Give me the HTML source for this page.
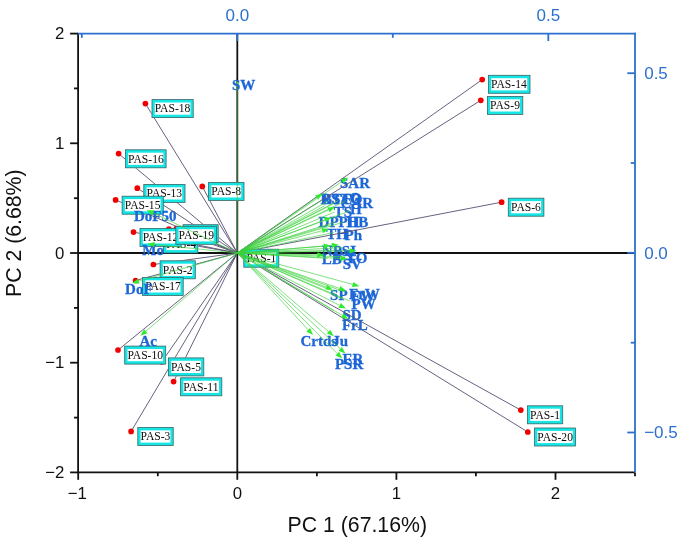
<!DOCTYPE html>
<html><head><meta charset="utf-8"><style>
html,body{margin:0;padding:0;background:#fff;}
body{width:685px;height:540px;overflow:hidden;font-family:"Liberation Sans",sans-serif;}
svg{display:block;will-change:transform;filter:blur(0.3px);}
</style></head><body>
<svg width="685" height="540" viewBox="0 0 685 540">
<rect width="685" height="540" fill="#fff"/>
<line x1="78" y1="253" x2="635" y2="253" stroke="#111" stroke-width="1.8"/>
<line x1="237.3" y1="33" x2="237.3" y2="472.4" stroke="#111" stroke-width="1.8"/>
<circle cx="145.4" cy="103.6" r="2.85" fill="#f00000"/>
<circle cx="118.6" cy="153.6" r="2.85" fill="#f00000"/>
<circle cx="137.3" cy="188.2" r="2.85" fill="#f00000"/>
<circle cx="115.6" cy="199.9" r="2.85" fill="#f00000"/>
<circle cx="202.3" cy="186.4" r="2.85" fill="#f00000"/>
<circle cx="157.0" cy="239.0" r="2.85" fill="#f00000"/>
<circle cx="133.5" cy="232.1" r="2.85" fill="#f00000"/>
<circle cx="176.4" cy="228.6" r="2.85" fill="#f00000"/>
<circle cx="168.9" cy="229.2" r="2.85" fill="#f00000"/>
<circle cx="153.4" cy="264.5" r="2.85" fill="#f00000"/>
<circle cx="135.6" cy="280.5" r="2.85" fill="#f00000"/>
<circle cx="118.0" cy="350.0" r="2.85" fill="#f00000"/>
<circle cx="161.8" cy="361.8" r="2.85" fill="#f00000"/>
<circle cx="173.6" cy="381.6" r="2.85" fill="#f00000"/>
<circle cx="131.1" cy="431.4" r="2.85" fill="#f00000"/>
<circle cx="482.2" cy="79.6" r="2.85" fill="#f00000"/>
<circle cx="480.8" cy="100.3" r="2.85" fill="#f00000"/>
<circle cx="501.6" cy="202.2" r="2.85" fill="#f00000"/>
<circle cx="520.8" cy="410.1" r="2.85" fill="#f00000"/>
<circle cx="527.8" cy="432.0" r="2.85" fill="#f00000"/>
<rect x="152.0" y="99.60000000000001" width="41.2" height="18.0" fill="#14e6e6" stroke="#3a6464" stroke-width="0.8"/>
<rect x="154.79999999999998" y="102.5" width="35.6" height="12.200000000000001" fill="#fff"/>
<text x="154.7" y="112.4" font-family="Liberation Serif" font-size="11.6" fill="#0a0a0a">PAS-18</text>
<rect x="125.4" y="149.8" width="40.7" height="18.0" fill="#14e6e6" stroke="#3a6464" stroke-width="0.8"/>
<rect x="128.2" y="152.70000000000002" width="35.1" height="12.200000000000001" fill="#fff"/>
<text x="128.1" y="162.6" font-family="Liberation Serif" font-size="11.6" fill="#0a0a0a">PAS-16</text>
<rect x="143.8" y="184.4" width="41.2" height="18.0" fill="#14e6e6" stroke="#3a6464" stroke-width="0.8"/>
<rect x="146.6" y="187.3" width="35.6" height="12.200000000000001" fill="#fff"/>
<text x="146.5" y="197.2" font-family="Liberation Serif" font-size="11.6" fill="#0a0a0a">PAS-13</text>
<rect x="122.10000000000001" y="196.20000000000002" width="41.2" height="18.0" fill="#14e6e6" stroke="#3a6464" stroke-width="0.8"/>
<rect x="124.9" y="199.10000000000002" width="35.6" height="12.200000000000001" fill="#fff"/>
<text x="124.8" y="209.0" font-family="Liberation Serif" font-size="11.6" fill="#0a0a0a">PAS-15</text>
<rect x="208.6" y="182.4" width="35.400000000000006" height="18.0" fill="#14e6e6" stroke="#3a6464" stroke-width="0.8"/>
<rect x="211.39999999999998" y="185.3" width="29.800000000000004" height="12.200000000000001" fill="#fff"/>
<text x="211.29999999999998" y="195.2" font-family="Liberation Serif" font-size="11.6" fill="#0a0a0a">PAS-8</text>
<rect x="163.6" y="235.0" width="34.2" height="18.0" fill="#14e6e6" stroke="#3a6464" stroke-width="0.8"/>
<rect x="166.39999999999998" y="237.9" width="28.6" height="12.200000000000001" fill="#fff"/>
<text x="166.29999999999998" y="247.79999999999998" font-family="Liberation Serif" font-size="11.6" fill="#0a0a0a">PAS-4</text>
<rect x="140.0" y="228.4" width="41.2" height="18.0" fill="#14e6e6" stroke="#3a6464" stroke-width="0.8"/>
<rect x="142.79999999999998" y="231.3" width="35.6" height="12.200000000000001" fill="#fff"/>
<text x="142.7" y="241.2" font-family="Liberation Serif" font-size="11.6" fill="#0a0a0a">PAS-12</text>
<rect x="183.0" y="224.70000000000002" width="35.2" height="18.0" fill="#14e6e6" stroke="#3a6464" stroke-width="0.8"/>
<rect x="185.79999999999998" y="227.60000000000002" width="29.6" height="12.200000000000001" fill="#fff"/>
<text x="185.7" y="237.5" font-family="Liberation Serif" font-size="11.6" fill="#0a0a0a">PAS-7</text>
<rect x="175.8" y="226.3" width="40.7" height="18.0" fill="#14e6e6" stroke="#3a6464" stroke-width="0.8"/>
<rect x="178.6" y="229.20000000000002" width="35.1" height="12.200000000000001" fill="#fff"/>
<text x="178.5" y="239.1" font-family="Liberation Serif" font-size="11.6" fill="#0a0a0a">PAS-19</text>
<rect x="160.1" y="260.79999999999995" width="35.2" height="18.0" fill="#14e6e6" stroke="#3a6464" stroke-width="0.8"/>
<rect x="162.89999999999998" y="263.7" width="29.6" height="12.200000000000001" fill="#fff"/>
<text x="162.79999999999998" y="273.59999999999997" font-family="Liberation Serif" font-size="11.6" fill="#0a0a0a">PAS-2</text>
<rect x="142.5" y="277.4" width="40.7" height="18.0" fill="#14e6e6" stroke="#3a6464" stroke-width="0.8"/>
<rect x="145.29999999999998" y="280.3" width="35.1" height="12.200000000000001" fill="#fff"/>
<text x="145.2" y="290.2" font-family="Liberation Serif" font-size="11.6" fill="#0a0a0a">PAS-17</text>
<rect x="124.7" y="346.09999999999997" width="41.0" height="18.0" fill="#14e6e6" stroke="#3a6464" stroke-width="0.8"/>
<rect x="127.5" y="349.0" width="35.4" height="12.200000000000001" fill="#fff"/>
<text x="127.39999999999999" y="358.9" font-family="Liberation Serif" font-size="11.6" fill="#0a0a0a">PAS-10</text>
<rect x="168.4" y="357.9" width="35.400000000000006" height="18.0" fill="#14e6e6" stroke="#3a6464" stroke-width="0.8"/>
<rect x="171.2" y="360.8" width="29.800000000000004" height="12.200000000000001" fill="#fff"/>
<text x="171.1" y="370.7" font-family="Liberation Serif" font-size="11.6" fill="#0a0a0a">PAS-5</text>
<rect x="180.6" y="377.79999999999995" width="41.2" height="18.0" fill="#14e6e6" stroke="#3a6464" stroke-width="0.8"/>
<rect x="183.39999999999998" y="380.7" width="35.6" height="12.200000000000001" fill="#fff"/>
<text x="183.29999999999998" y="390.59999999999997" font-family="Liberation Serif" font-size="11.6" fill="#0a0a0a">PAS-11</text>
<rect x="137.8" y="427.5" width="35.400000000000006" height="18.0" fill="#14e6e6" stroke="#3a6464" stroke-width="0.8"/>
<rect x="140.6" y="430.40000000000003" width="29.800000000000004" height="12.200000000000001" fill="#fff"/>
<text x="140.5" y="440.3" font-family="Liberation Serif" font-size="11.6" fill="#0a0a0a">PAS-3</text>
<rect x="488.4" y="75.30000000000001" width="41.6" height="18.0" fill="#14e6e6" stroke="#3a6464" stroke-width="0.8"/>
<rect x="491.2" y="78.2" width="36.0" height="12.200000000000001" fill="#fff"/>
<text x="491.1" y="88.10000000000001" font-family="Liberation Serif" font-size="11.6" fill="#0a0a0a">PAS-14</text>
<rect x="487.4" y="96.4" width="35.400000000000006" height="18.0" fill="#14e6e6" stroke="#3a6464" stroke-width="0.8"/>
<rect x="490.2" y="99.3" width="29.800000000000004" height="12.200000000000001" fill="#fff"/>
<text x="490.1" y="109.2" font-family="Liberation Serif" font-size="11.6" fill="#0a0a0a">PAS-9</text>
<rect x="508.29999999999995" y="198.20000000000002" width="35.6" height="18.0" fill="#14e6e6" stroke="#3a6464" stroke-width="0.8"/>
<rect x="511.09999999999997" y="201.10000000000002" width="30.0" height="12.200000000000001" fill="#fff"/>
<text x="511.0" y="211.0" font-family="Liberation Serif" font-size="11.6" fill="#0a0a0a">PAS-6</text>
<rect x="527.4" y="405.79999999999995" width="35.300000000000004" height="18.0" fill="#14e6e6" stroke="#3a6464" stroke-width="0.8"/>
<rect x="530.2" y="408.7" width="29.700000000000003" height="12.200000000000001" fill="#fff"/>
<text x="530.1" y="418.59999999999997" font-family="Liberation Serif" font-size="11.6" fill="#0a0a0a">PAS-1</text>
<rect x="534.6" y="428.0" width="41.0" height="18.0" fill="#14e6e6" stroke="#3a6464" stroke-width="0.8"/>
<rect x="537.4000000000001" y="430.90000000000003" width="35.4" height="12.200000000000001" fill="#fff"/>
<text x="537.3000000000001" y="440.8" font-family="Liberation Serif" font-size="11.6" fill="#0a0a0a">PAS-20</text>
<rect x="243.8" y="249.20000000000002" width="35.0" height="18.0" fill="#14e6e6" stroke="#3a6464" stroke-width="0.8"/>
<rect x="246.6" y="252.10000000000002" width="29.4" height="12.200000000000001" fill="#fff"/>
<text x="246.5" y="262.0" font-family="Liberation Serif" font-size="11.6" fill="#0a0a0a">PAS-1</text>
<polygon points="237.5,80.6 235.6,86.8 239.4,86.8" fill="#2fea2f"/>
<text x="231.9" y="90.0" font-family="Liberation Serif" font-weight="bold" font-size="15" fill="#1d66d6" stroke="#1d66d6" stroke-width="0.3">SW</text>
<text x="340.0" y="188.4" font-family="Liberation Serif" font-weight="bold" font-size="15" fill="#1d66d6" stroke="#1d66d6" stroke-width="0.3">SAR</text>
<text x="320.6" y="203.7" font-family="Liberation Serif" font-weight="bold" font-size="15" fill="#1d66d6" stroke="#1d66d6" stroke-width="0.3">RS</text>
<text x="341.0" y="203.7" font-family="Liberation Serif" font-weight="bold" font-size="15" fill="#1d66d6" stroke="#1d66d6" stroke-width="0.3">TO</text>
<text x="331.5" y="203.7" font-family="Liberation Serif" font-weight="bold" font-size="15" fill="#1d66d6" stroke="#1d66d6" stroke-width="0.3">TC</text>
<text x="322.0" y="203.7" font-family="Liberation Serif" font-weight="bold" font-size="15" fill="#1d66d6" stroke="#1d66d6" stroke-width="0.3">BS</text>
<text x="349.5" y="203.2" font-family="Liberation Serif" font-weight="bold" font-size="15" fill="#1d66d6" stroke="#1d66d6" stroke-width="0.3">O</text>
<text x="340.6" y="207.8" font-family="Liberation Serif" font-weight="bold" font-size="15" fill="#1d66d6" stroke="#1d66d6" stroke-width="0.3">CAR</text>
<text x="333.8" y="216.8" font-family="Liberation Serif" font-weight="bold" font-size="15" fill="#1d66d6" stroke="#1d66d6" stroke-width="0.3">TS</text>
<text x="350.0" y="214.3" font-family="Liberation Serif" font-weight="bold" font-size="15" fill="#1d66d6" stroke="#1d66d6" stroke-width="0.3">H</text>
<text x="318.6" y="227.4" font-family="Liberation Serif" font-weight="bold" font-size="15" fill="#1d66d6" stroke="#1d66d6" stroke-width="0.3">DPPH</text>
<text x="346.5" y="227.4" font-family="Liberation Serif" font-weight="bold" font-size="15" fill="#1d66d6" stroke="#1d66d6" stroke-width="0.3">HB</text>
<text x="326.2" y="239.2" font-family="Liberation Serif" font-weight="bold" font-size="15" fill="#1d66d6" stroke="#1d66d6" stroke-width="0.3">TH</text>
<text x="344.6" y="239.6" font-family="Liberation Serif" font-weight="bold" font-size="15" fill="#1d66d6" stroke="#1d66d6" stroke-width="0.3">Ph</text>
<text x="321.8" y="256.4" font-family="Liberation Serif" font-weight="bold" font-size="15" fill="#1d66d6" stroke="#1d66d6" stroke-width="0.3">NPSI</text>
<text x="321.8" y="264.1" font-family="Liberation Serif" font-weight="bold" font-size="15" fill="#1d66d6" stroke="#1d66d6" stroke-width="0.3">LB</text>
<text x="346.0" y="262.8" font-family="Liberation Serif" font-weight="bold" font-size="15" fill="#1d66d6" stroke="#1d66d6" stroke-width="0.3">TO</text>
<text x="334.0" y="259.5" font-family="Liberation Serif" font-weight="bold" font-size="15" fill="#1d66d6" stroke="#1d66d6" stroke-width="0.3">PS</text>
<text x="342.7" y="268.5" font-family="Liberation Serif" font-weight="bold" font-size="15" fill="#1d66d6" stroke="#1d66d6" stroke-width="0.3">SV</text>
<text x="330.1" y="300.4" font-family="Liberation Serif" font-weight="bold" font-size="15" fill="#1d66d6" stroke="#1d66d6" stroke-width="0.3">SP</text>
<text x="349.0" y="298.6" font-family="Liberation Serif" font-weight="bold" font-size="15" fill="#1d66d6" stroke="#1d66d6" stroke-width="0.3">FrW</text>
<text x="351.0" y="301.2" font-family="Liberation Serif" font-weight="bold" font-size="15" fill="#1d66d6" stroke="#1d66d6" stroke-width="0.3">FW</text>
<text x="351.5" y="309.0" font-family="Liberation Serif" font-weight="bold" font-size="15" fill="#1d66d6" stroke="#1d66d6" stroke-width="0.3">PW</text>
<text x="342.4" y="319.7" font-family="Liberation Serif" font-weight="bold" font-size="15" fill="#1d66d6" stroke="#1d66d6" stroke-width="0.3">SD</text>
<text x="341.9" y="329.9" font-family="Liberation Serif" font-weight="bold" font-size="15" fill="#1d66d6" stroke="#1d66d6" stroke-width="0.3">FrL</text>
<text x="300.5" y="345.6" font-family="Liberation Serif" font-weight="bold" font-size="15" fill="#1d66d6" stroke="#1d66d6" stroke-width="0.3">Crtds</text>
<text x="332.2" y="346.0" font-family="Liberation Serif" font-weight="bold" font-size="15" fill="#1d66d6" stroke="#1d66d6" stroke-width="0.3">Ju</text>
<text x="342.4" y="363.7" font-family="Liberation Serif" font-weight="bold" font-size="15" fill="#1d66d6" stroke="#1d66d6" stroke-width="0.3">ER</text>
<text x="334.9" y="368.9" font-family="Liberation Serif" font-weight="bold" font-size="15" fill="#1d66d6" stroke="#1d66d6" stroke-width="0.3">PSR</text>
<text x="133.9" y="220.8" font-family="Liberation Serif" font-weight="bold" font-size="15" fill="#1d66d6" stroke="#1d66d6" stroke-width="0.3">DoF50</text>
<text x="142.3" y="254.5" font-family="Liberation Serif" font-weight="bold" font-size="15" fill="#1d66d6" stroke="#1d66d6" stroke-width="0.3">Mo</text>
<text x="125.1" y="294.0" font-family="Liberation Serif" font-weight="bold" font-size="15" fill="#1d66d6" stroke="#1d66d6" stroke-width="0.3">DoF</text>
<text x="139.4" y="345.7" font-family="Liberation Serif" font-weight="bold" font-size="15" fill="#1d66d6" stroke="#1d66d6" stroke-width="0.3">Ac</text>
<mask id="m" maskUnits="userSpaceOnUse" x="0" y="0" width="685" height="540"><rect width="685" height="540" fill="#fff"/>
<rect x="151.6" y="99.2" width="42.0" height="18.8" fill="#000"/>
<circle cx="145.4" cy="103.6" r="2.5" fill="#000"/>
<rect x="125.0" y="149.4" width="41.5" height="18.8" fill="#000"/>
<circle cx="118.6" cy="153.6" r="2.5" fill="#000"/>
<rect x="143.4" y="184.0" width="42.0" height="18.8" fill="#000"/>
<circle cx="137.3" cy="188.2" r="2.5" fill="#000"/>
<rect x="121.7" y="195.8" width="42.0" height="18.8" fill="#000"/>
<circle cx="115.6" cy="199.9" r="2.5" fill="#000"/>
<rect x="208.2" y="182.0" width="36.2" height="18.8" fill="#000"/>
<circle cx="202.3" cy="186.4" r="2.5" fill="#000"/>
<rect x="163.2" y="234.6" width="35.0" height="18.8" fill="#000"/>
<circle cx="157.0" cy="239.0" r="2.5" fill="#000"/>
<rect x="139.6" y="228.0" width="42.0" height="18.8" fill="#000"/>
<circle cx="133.5" cy="232.1" r="2.5" fill="#000"/>
<rect x="182.6" y="224.3" width="36.0" height="18.8" fill="#000"/>
<circle cx="176.4" cy="228.6" r="2.5" fill="#000"/>
<rect x="175.4" y="225.9" width="41.5" height="18.8" fill="#000"/>
<circle cx="168.9" cy="229.2" r="2.5" fill="#000"/>
<rect x="159.7" y="260.4" width="36.0" height="18.8" fill="#000"/>
<circle cx="153.4" cy="264.5" r="2.5" fill="#000"/>
<rect x="142.1" y="277.0" width="41.5" height="18.8" fill="#000"/>
<circle cx="135.6" cy="280.5" r="2.5" fill="#000"/>
<rect x="124.3" y="345.7" width="41.8" height="18.8" fill="#000"/>
<circle cx="118.0" cy="350.0" r="2.5" fill="#000"/>
<rect x="168.0" y="357.5" width="36.2" height="18.8" fill="#000"/>
<circle cx="161.8" cy="361.8" r="2.5" fill="#000"/>
<rect x="180.2" y="377.4" width="42.0" height="18.8" fill="#000"/>
<circle cx="173.6" cy="381.6" r="2.5" fill="#000"/>
<rect x="137.4" y="427.1" width="36.2" height="18.8" fill="#000"/>
<circle cx="131.1" cy="431.4" r="2.5" fill="#000"/>
<rect x="488.0" y="74.9" width="42.4" height="18.8" fill="#000"/>
<circle cx="482.2" cy="79.6" r="2.5" fill="#000"/>
<rect x="487.0" y="96.0" width="36.2" height="18.8" fill="#000"/>
<circle cx="480.8" cy="100.3" r="2.5" fill="#000"/>
<rect x="507.9" y="197.8" width="36.4" height="18.8" fill="#000"/>
<circle cx="501.6" cy="202.2" r="2.5" fill="#000"/>
<rect x="527.0" y="405.4" width="36.1" height="18.8" fill="#000"/>
<circle cx="520.8" cy="410.1" r="2.5" fill="#000"/>
<rect x="534.2" y="427.6" width="41.8" height="18.8" fill="#000"/>
<circle cx="527.8" cy="432.0" r="2.5" fill="#000"/>
<rect x="243.4" y="248.8" width="35.8" height="18.8" fill="#000"/>
</mask><g mask="url(#m)">
<line x1="237.3" y1="253.0" x2="145.4" y2="103.6" stroke="#575070" stroke-width="0.9"/>
<line x1="237.3" y1="253.0" x2="118.6" y2="153.6" stroke="#575070" stroke-width="0.9"/>
<line x1="237.3" y1="253.0" x2="137.3" y2="188.2" stroke="#575070" stroke-width="0.9"/>
<line x1="237.3" y1="253.0" x2="115.6" y2="199.9" stroke="#575070" stroke-width="0.9"/>
<line x1="237.3" y1="253.0" x2="202.3" y2="186.4" stroke="#575070" stroke-width="0.9"/>
<line x1="237.3" y1="253.0" x2="157.0" y2="239.0" stroke="#575070" stroke-width="0.9"/>
<line x1="237.3" y1="253.0" x2="133.5" y2="232.1" stroke="#575070" stroke-width="0.9"/>
<line x1="237.3" y1="253.0" x2="176.4" y2="228.6" stroke="#575070" stroke-width="0.9"/>
<line x1="237.3" y1="253.0" x2="168.9" y2="229.2" stroke="#575070" stroke-width="0.9"/>
<line x1="237.3" y1="253.0" x2="153.4" y2="264.5" stroke="#575070" stroke-width="0.9"/>
<line x1="237.3" y1="253.0" x2="135.6" y2="280.5" stroke="#575070" stroke-width="0.9"/>
<line x1="237.3" y1="253.0" x2="118.0" y2="350.0" stroke="#575070" stroke-width="0.9"/>
<line x1="237.3" y1="253.0" x2="161.8" y2="361.8" stroke="#575070" stroke-width="0.9"/>
<line x1="237.3" y1="253.0" x2="173.6" y2="381.6" stroke="#575070" stroke-width="0.9"/>
<line x1="237.3" y1="253.0" x2="131.1" y2="431.4" stroke="#575070" stroke-width="0.9"/>
<line x1="237.3" y1="253.0" x2="482.2" y2="79.6" stroke="#575070" stroke-width="0.9"/>
<line x1="237.3" y1="253.0" x2="480.8" y2="100.3" stroke="#575070" stroke-width="0.9"/>
<line x1="237.3" y1="253.0" x2="501.6" y2="202.2" stroke="#575070" stroke-width="0.9"/>
<line x1="237.3" y1="253.0" x2="520.8" y2="410.1" stroke="#575070" stroke-width="0.9"/>
<line x1="237.3" y1="253.0" x2="527.8" y2="432.0" stroke="#575070" stroke-width="0.9"/>
<line x1="237.3" y1="253.0" x2="237.3" y2="253.0" stroke="#575070" stroke-width="0.9"/>
</g>
<line x1="237.3" y1="253.0" x2="342.3" y2="181.3" stroke="#3dd23d" stroke-width="1.0" stroke-opacity="0.66"/>
<line x1="237.3" y1="253.0" x2="316.6" y2="197.5" stroke="#3dd23d" stroke-width="1.0" stroke-opacity="0.66"/>
<line x1="237.3" y1="253.0" x2="328.5" y2="209.9" stroke="#3dd23d" stroke-width="1.0" stroke-opacity="0.66"/>
<line x1="237.3" y1="253.0" x2="325.0" y2="219.9" stroke="#3dd23d" stroke-width="1.0" stroke-opacity="0.66"/>
<line x1="237.3" y1="253.0" x2="322.3" y2="230.8" stroke="#3dd23d" stroke-width="1.0" stroke-opacity="0.66"/>
<line x1="237.3" y1="253.0" x2="338.2" y2="200.7" stroke="#3dd23d" stroke-width="1.0" stroke-opacity="0.66"/>
<line x1="237.3" y1="253.0" x2="345.1" y2="201.1" stroke="#3dd23d" stroke-width="1.0" stroke-opacity="0.66"/>
<line x1="237.3" y1="253.0" x2="335.6" y2="221.8" stroke="#3dd23d" stroke-width="1.0" stroke-opacity="0.66"/>
<line x1="237.3" y1="253.0" x2="333.6" y2="232.5" stroke="#3dd23d" stroke-width="1.0" stroke-opacity="0.66"/>
<line x1="237.3" y1="253.0" x2="321.9" y2="200.3" stroke="#3dd23d" stroke-width="1.0" stroke-opacity="0.66"/>
<line x1="237.3" y1="253.0" x2="328.8" y2="200.7" stroke="#3dd23d" stroke-width="1.0" stroke-opacity="0.66"/>
<line x1="237.3" y1="253.0" x2="332.8" y2="204.1" stroke="#3dd23d" stroke-width="1.0" stroke-opacity="0.66"/>
<line x1="237.3" y1="253.0" x2="324.8" y2="205.7" stroke="#3dd23d" stroke-width="1.0" stroke-opacity="0.66"/>
<line x1="237.3" y1="253.0" x2="334.7" y2="212.0" stroke="#3dd23d" stroke-width="1.0" stroke-opacity="0.66"/>
<line x1="237.3" y1="253.0" x2="343.6" y2="222.2" stroke="#3dd23d" stroke-width="1.0" stroke-opacity="0.66"/>
<line x1="237.3" y1="253.0" x2="349.7" y2="210.9" stroke="#3dd23d" stroke-width="1.0" stroke-opacity="0.66"/>
<line x1="237.3" y1="253.0" x2="330.6" y2="224.7" stroke="#3dd23d" stroke-width="1.0" stroke-opacity="0.66"/>
<line x1="237.3" y1="253.0" x2="323.7" y2="246.2" stroke="#3dd23d" stroke-width="1.0" stroke-opacity="0.66"/>
<line x1="237.3" y1="253.0" x2="331.8" y2="245.4" stroke="#3dd23d" stroke-width="1.0" stroke-opacity="0.66"/>
<line x1="237.3" y1="253.0" x2="317.3" y2="254.8" stroke="#3dd23d" stroke-width="1.0" stroke-opacity="0.66"/>
<line x1="237.3" y1="253.0" x2="340.6" y2="258.4" stroke="#3dd23d" stroke-width="1.0" stroke-opacity="0.66"/>
<line x1="237.3" y1="253.0" x2="349.5" y2="250.8" stroke="#3dd23d" stroke-width="1.0" stroke-opacity="0.66"/>
<line x1="237.3" y1="253.0" x2="326.3" y2="287.2" stroke="#3dd23d" stroke-width="1.0" stroke-opacity="0.66"/>
<line x1="237.3" y1="253.0" x2="339.5" y2="288.4" stroke="#3dd23d" stroke-width="1.0" stroke-opacity="0.66"/>
<line x1="237.3" y1="253.0" x2="352.7" y2="284.4" stroke="#3dd23d" stroke-width="1.0" stroke-opacity="0.66"/>
<line x1="237.3" y1="253.0" x2="339.7" y2="305.4" stroke="#3dd23d" stroke-width="1.0" stroke-opacity="0.66"/>
<line x1="237.3" y1="253.0" x2="342.3" y2="315.4" stroke="#3dd23d" stroke-width="1.0" stroke-opacity="0.66"/>
<line x1="237.3" y1="253.0" x2="308.2" y2="329.8" stroke="#3dd23d" stroke-width="1.0" stroke-opacity="0.66"/>
<line x1="237.3" y1="253.0" x2="328.6" y2="331.7" stroke="#3dd23d" stroke-width="1.0" stroke-opacity="0.66"/>
<line x1="237.3" y1="253.0" x2="340.3" y2="348.8" stroke="#3dd23d" stroke-width="1.0" stroke-opacity="0.66"/>
<line x1="237.3" y1="253.0" x2="337.3" y2="353.6" stroke="#3dd23d" stroke-width="1.0" stroke-opacity="0.66"/>
<line x1="237.3" y1="253.0" x2="345.6" y2="292.2" stroke="#3dd23d" stroke-width="1.0" stroke-opacity="0.66"/>
<line x1="237.3" y1="253.0" x2="349.7" y2="301.0" stroke="#3dd23d" stroke-width="1.0" stroke-opacity="0.66"/>
<line x1="237.3" y1="253.0" x2="344.5" y2="256.9" stroke="#3dd23d" stroke-width="1.0" stroke-opacity="0.66"/>
<line x1="237.3" y1="253.0" x2="327.5" y2="258.4" stroke="#3dd23d" stroke-width="1.0" stroke-opacity="0.66"/>
<line x1="237.3" y1="253.0" x2="335.7" y2="292.1" stroke="#3dd23d" stroke-width="1.0" stroke-opacity="0.66"/>
<line x1="237.3" y1="253.0" x2="342.7" y2="299.0" stroke="#3dd23d" stroke-width="1.0" stroke-opacity="0.66"/>
<line x1="237.3" y1="253.0" x2="333.9" y2="310.7" stroke="#3dd23d" stroke-width="1.0" stroke-opacity="0.66"/>
<line x1="237.3" y1="253.0" x2="335.5" y2="250.1" stroke="#3dd23d" stroke-width="1.0" stroke-opacity="0.66"/>
<line x1="237.3" y1="253.0" x2="342.5" y2="247.6" stroke="#3dd23d" stroke-width="1.0" stroke-opacity="0.66"/>
<line x1="237.3" y1="253.0" x2="153.2" y2="213.0" stroke="#3dd23d" stroke-width="1.0" stroke-opacity="0.66"/>
<line x1="237.3" y1="253.0" x2="154.5" y2="244.5" stroke="#3dd23d" stroke-width="1.0" stroke-opacity="0.66"/>
<line x1="237.3" y1="253.0" x2="138.7" y2="281.2" stroke="#3dd23d" stroke-width="1.0" stroke-opacity="0.66"/>
<line x1="237.3" y1="253.0" x2="145.8" y2="331.2" stroke="#3dd23d" stroke-width="1.0" stroke-opacity="0.66"/>
<polygon points="348.1,177.4 343.8,183.5 340.9,179.2" fill="#2fea2f"/>
<polygon points="322.3,193.5 318.0,199.7 315.1,195.4" fill="#2fea2f"/>
<polygon points="334.9,206.9 329.7,212.2 327.4,207.5" fill="#2fea2f"/>
<polygon points="331.5,217.4 325.9,222.3 324.0,217.5" fill="#2fea2f"/>
<polygon points="329.1,229.1 322.9,233.3 321.6,228.3" fill="#2fea2f"/>
<polygon points="330.7,245.6 323.9,248.8 323.5,243.6" fill="#2fea2f"/>
<polygon points="338.8,244.8 332.0,248.0 331.6,242.8" fill="#2fea2f"/>
<polygon points="324.3,255.0 317.2,257.4 317.4,252.2" fill="#2fea2f"/>
<polygon points="347.6,258.7 340.5,261.0 340.7,255.8" fill="#2fea2f"/>
<polygon points="356.5,250.7 349.6,253.4 349.5,248.2" fill="#2fea2f"/>
<polygon points="332.8,289.7 325.3,289.6 327.2,284.8" fill="#2fea2f"/>
<polygon points="346.2,290.7 338.7,290.8 340.4,285.9" fill="#2fea2f"/>
<polygon points="359.4,286.3 352.0,287.0 353.4,281.9" fill="#2fea2f"/>
<polygon points="345.9,308.5 338.5,307.7 340.9,303.0" fill="#2fea2f"/>
<polygon points="348.3,319.0 340.9,317.7 343.6,313.2" fill="#2fea2f"/>
<polygon points="313.0,334.9 306.3,331.5 310.1,328.0" fill="#2fea2f"/>
<polygon points="333.9,336.2 326.9,333.6 330.3,329.7" fill="#2fea2f"/>
<polygon points="345.4,353.6 338.5,350.7 342.0,346.9" fill="#2fea2f"/>
<polygon points="342.3,358.6 335.5,355.5 339.2,351.8" fill="#2fea2f"/>
<polygon points="146.8,210.0 154.3,210.6 152.0,215.3" fill="#2fea2f"/>
<polygon points="147.5,243.7 154.8,241.9 154.2,247.0" fill="#2fea2f"/>
<polygon points="132.0,283.1 138.0,278.7 139.4,283.7" fill="#2fea2f"/>
<polygon points="140.5,335.7 144.1,329.2 147.5,333.2" fill="#2fea2f"/>
<line x1="237.3" y1="253" x2="237.3" y2="86.5" stroke="#4cc04c" stroke-width="1.3" stroke-opacity="0.55"/>
<line x1="78" y1="472.4" x2="635" y2="472.4" stroke="#111" stroke-width="1.8"/>
<line x1="78.1" y1="33" x2="78.1" y2="473.3" stroke="#111" stroke-width="1.8"/>
<line x1="77.2" y1="33.6" x2="635.9" y2="33.6" stroke="#2b70cf" stroke-width="1.8"/>
<line x1="635" y1="32.7" x2="635" y2="472.8" stroke="#2b70cf" stroke-width="1.8"/>
<line x1="635" y1="472.8" x2="635" y2="476.2" stroke="#111" stroke-width="1.8"/>
<line x1="70.1" y1="33.6" x2="78" y2="33.6" stroke="#111" stroke-width="1.8"/>
<text x="64.3" y="39.2" text-anchor="end" font-family="Liberation Sans" font-size="16.8" fill="#111">2</text>
<line x1="70.1" y1="143.3" x2="78" y2="143.3" stroke="#111" stroke-width="1.8"/>
<text x="64.3" y="148.9" text-anchor="end" font-family="Liberation Sans" font-size="16.8" fill="#111">1</text>
<line x1="70.1" y1="253.0" x2="78" y2="253.0" stroke="#111" stroke-width="1.8"/>
<text x="64.3" y="258.6" text-anchor="end" font-family="Liberation Sans" font-size="16.8" fill="#111">0</text>
<line x1="70.1" y1="362.7" x2="78" y2="362.7" stroke="#111" stroke-width="1.8"/>
<text x="64.3" y="368.3" text-anchor="end" font-family="Liberation Sans" font-size="16.8" fill="#111">−1</text>
<line x1="70.1" y1="472.4" x2="78" y2="472.4" stroke="#111" stroke-width="1.8"/>
<text x="64.3" y="478.0" text-anchor="end" font-family="Liberation Sans" font-size="16.8" fill="#111">−2</text>
<line x1="74.0" y1="88.4" x2="78" y2="88.4" stroke="#111" stroke-width="1.8"/>
<line x1="74.0" y1="198.2" x2="78" y2="198.2" stroke="#111" stroke-width="1.8"/>
<line x1="74.0" y1="307.9" x2="78" y2="307.9" stroke="#111" stroke-width="1.8"/>
<line x1="74.0" y1="417.6" x2="78" y2="417.6" stroke="#111" stroke-width="1.8"/>
<line x1="78.2" y1="472.4" x2="78.2" y2="479.8" stroke="#111" stroke-width="1.8"/>
<text x="77.3" y="498.6" text-anchor="middle" font-family="Liberation Sans" font-size="16.8" fill="#111">−1</text>
<line x1="237.3" y1="472.4" x2="237.3" y2="479.8" stroke="#111" stroke-width="1.8"/>
<text x="237.3" y="498.6" text-anchor="middle" font-family="Liberation Sans" font-size="16.8" fill="#111">0</text>
<line x1="396.4" y1="472.4" x2="396.4" y2="479.8" stroke="#111" stroke-width="1.8"/>
<text x="396.4" y="498.6" text-anchor="middle" font-family="Liberation Sans" font-size="16.8" fill="#111">1</text>
<line x1="555.5" y1="472.4" x2="555.5" y2="479.8" stroke="#111" stroke-width="1.8"/>
<text x="555.5" y="498.6" text-anchor="middle" font-family="Liberation Sans" font-size="16.8" fill="#111">2</text>
<line x1="157.8" y1="472.4" x2="157.8" y2="476.2" stroke="#111" stroke-width="1.8"/>
<line x1="316.9" y1="472.4" x2="316.9" y2="476.2" stroke="#111" stroke-width="1.8"/>
<line x1="475.9" y1="472.4" x2="475.9" y2="476.2" stroke="#111" stroke-width="1.8"/>
<line x1="237.3" y1="33.6" x2="237.3" y2="41.0" stroke="#2b70cf" stroke-width="1.8"/>
<text x="237.3" y="20.9" text-anchor="middle" font-family="Liberation Sans" font-size="17" fill="#2b70cf">0.0</text>
<line x1="548.3" y1="33.6" x2="548.3" y2="41.0" stroke="#2b70cf" stroke-width="1.8"/>
<text x="548.3" y="20.9" text-anchor="middle" font-family="Liberation Sans" font-size="17" fill="#2b70cf">0.5</text>
<line x1="81.8" y1="33.6" x2="81.8" y2="37.8" stroke="#2b70cf" stroke-width="1.8"/>
<line x1="392.8" y1="33.6" x2="392.8" y2="37.8" stroke="#2b70cf" stroke-width="1.8"/>
<line x1="627.3" y1="73.2" x2="635" y2="73.2" stroke="#2b70cf" stroke-width="1.8"/>
<text x="644.2" y="79.0" font-family="Liberation Sans" font-size="17" fill="#2b70cf">0.5</text>
<line x1="627.3" y1="252.8" x2="635" y2="252.8" stroke="#2b70cf" stroke-width="1.8"/>
<text x="644.2" y="258.6" font-family="Liberation Sans" font-size="17" fill="#2b70cf">0.0</text>
<line x1="627.3" y1="432.5" x2="635" y2="432.5" stroke="#2b70cf" stroke-width="1.8"/>
<text x="644.2" y="438.3" font-family="Liberation Sans" font-size="17" fill="#2b70cf">−0.5</text>
<line x1="630.8" y1="163.0" x2="635" y2="163.0" stroke="#2b70cf" stroke-width="1.8"/>
<line x1="630.8" y1="342.7" x2="635" y2="342.7" stroke="#2b70cf" stroke-width="1.8"/>
<text x="357.3" y="532" text-anchor="middle" font-family="Liberation Sans" font-size="21.25" fill="#111">PC 1 (67.16%)</text>
<text transform="translate(20.8,233.2) rotate(-90)" x="0" y="0" text-anchor="middle" font-family="Liberation Sans" font-size="21.25" fill="#111">PC 2 (6.68%)</text>
</svg>
</body></html>
